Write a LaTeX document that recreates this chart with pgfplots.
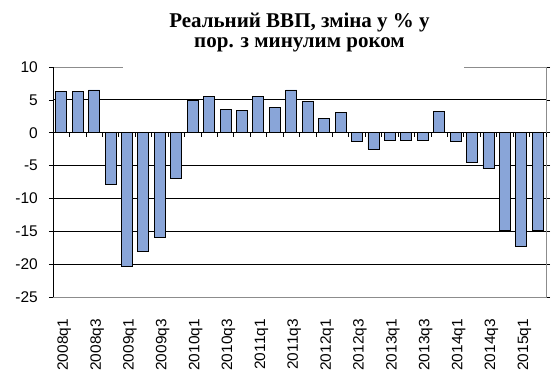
\documentclass[border=0pt]{standalone}
\usepackage{pgfplots}
\pgfplotsset{compat=1.18}
\usepackage{fontspec}
\setmainfont{Liberation Sans}
\newfontfamily\titlefont{Liberation Serif}
\definecolor{barblue}{RGB}{137,165,216}
\definecolor{framegray}{RGB}{140,140,140}
\newcommand\xl[1]{\scalebox{1.03}[1]{#1}}
\begin{document}
\begin{tikzpicture}
\useasboundingbox (-53pt,-77pt) rectangle (502pt,297pt);
\begin{axis}[
  at={(0pt,0pt)}, anchor=south west,
  scale only axis, width=493pt, height=230pt,
  xmin=-0.5, xmax=29.5, ymin=-25, ymax=10,
  axis line style={draw=none},
  ybar, bar width=11pt,
  ytick={-25,-20,...,10},
  yticklabels={-25,-20,-15,-10,-5,0,5,10},
  yticklabel style={font=\fontsize{15.5}{16}\selectfont, inner sep=0pt, xshift=-11pt},
  ytick style={black, line width=0.7pt},
  major tick length=4pt,
  tick align=outside,
  xtick={0,2,...,28},
  xticklabels={\xl{2008q1},\xl{2008q3},\xl{2009q1},\xl{2009q3},\xl{2010q1},\xl{2010q3},\xl{2011q1},\xl{2011q3},\xl{2012q1},\xl{2012q3},\xl{2013q1},\xl{2013q3},\xl{2014q1},\xl{2014q3},\xl{2015q1}},
  xticklabel style={font=\fontsize{15}{16}\selectfont, rotate=90, anchor=east, inner sep=0pt, xshift=-18pt, yshift=-3pt},
  xtick style={draw=none},
  extra y ticks={-20,-15,-10,-5,0,5},
  extra y tick labels={},
  extra y tick style={grid=major, major tick length=0pt},
  major grid style={black, line width=0.8pt},
  clip=false,
]
\addplot[fill=barblue, draw=black, line width=0.9pt] coordinates {
(0,6.3) (1,6.3) (2,6.5) (3,-7.9) (4,-20.4) (5,-18.0) (6,-16.0) (7,-7.0)
(8,4.9) (9,5.5) (10,3.6) (11,3.4) (12,5.5) (13,3.9) (14,6.5) (15,4.8)
(16,2.1) (17,3.1) (18,-1.3) (19,-2.5) (20,-1.2) (21,-1.2) (22,-1.2) (23,3.3)
(24,-1.3) (25,-4.6) (26,-5.5) (27,-14.9) (28,-17.3) (29,-14.9)
};
\draw[framegray, line width=0.8pt] (rel axis cs:0,1) -- (rel axis cs:0.142,1);
\draw[framegray, line width=0.8pt] (rel axis cs:0.834,1) -- (rel axis cs:1,1) -- (rel axis cs:1,0) -- (rel axis cs:0,0);
\draw[black, line width=0.8pt] (rel axis cs:0,0) -- (rel axis cs:0,1);
\draw[black, line width=0.9pt] (axis cs:-0.5,0) -- (axis cs:29.5,0);
\pgfplotsinvokeforeach{0,...,29}{\draw[black, line width=0.7pt] (axis cs:#1.5,0) -- ([yshift=-4pt]axis cs:#1.5,0);}
\node[anchor=south, inner sep=0pt, yshift=15pt, align=center, font=\titlefont\bfseries\fontsize{21}{20}\selectfont] at (rel axis cs:0.5,1) {Реальний ВВП, зміна у \% у\\пор. з минулим роком};
\end{axis}
\end{tikzpicture}
\end{document}
